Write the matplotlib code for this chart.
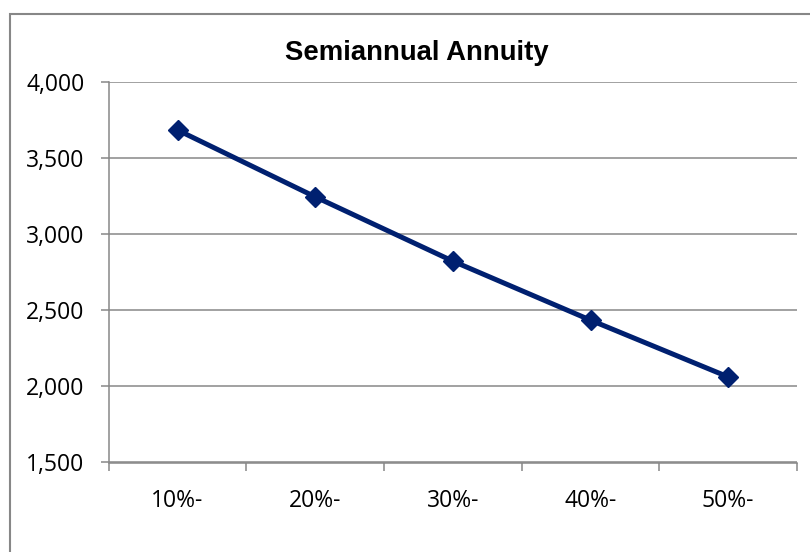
import matplotlib
matplotlib.use("Agg")
import matplotlib.pyplot as plt
import numpy as np
from matplotlib.patches import Rectangle
from matplotlib.ticker import FuncFormatter

# 반기 연금 현재가치 (할인율 구간별)
categories = ["10%-", "20%-", "30%-", "40%-", "50%-"]
annuity_values = [3686, 3247, 2824, 2436, 2063]
y_ticks = [1500, 2000, 2500, 3000, 3500, 4000]

LINE_COLOR = "#002070"
GRID_COLOR = "#878787"
TICK_FONT = ["Open Sans", "DejaVu Sans"]

fig = plt.figure(figsize=(8.1, 5.52), dpi=100)
fig.patch.set_facecolor("white")

# 차트 영역 외곽 테두리 (오른쪽/아래는 이미지 밖으로 이어짐)
border = Rectangle(
    (9.7 / 810, -0.2), 1.2, 1 - 14 / 552 + 0.2,
    transform=fig.transFigure, fill=False,
    edgecolor=GRID_COLOR, linewidth=1.5, zorder=0,
)
fig.patches.append(border)

ax = fig.add_axes([108.7 / 810, 1 - 462.5 / 552, (797 - 108.7) / 810, (462.5 - 82.3) / 552])

x = np.arange(len(categories))
ax.plot(
    x, annuity_values,
    color=LINE_COLOR, linewidth=3.6,
    marker="D", markersize=10.5, markerfacecolor=LINE_COLOR,
    markeredgecolor=LINE_COLOR, solid_capstyle="round", zorder=3,
    clip_on=False,
)

ax.set_xlim(-0.5, len(categories) - 0.5)
ax.set_ylim(y_ticks[0], y_ticks[-1])

# y축 눈금 및 가로 눈금선
ax.set_yticks(y_ticks)
ax.yaxis.set_major_formatter(FuncFormatter(lambda v, _: f"{int(v):,}"))
ax.grid(axis="y", color=GRID_COLOR, linewidth=1.1)
ax.set_axisbelow(True)

# x축: 라벨은 구간 중앙, 눈금은 구간 경계
ax.set_xticks(x)
ax.set_xticklabels(categories)
ax.set_xticks(np.arange(-0.5, len(categories)), minor=True)
ax.tick_params(axis="x", which="major", length=0, pad=19)
ax.tick_params(axis="x", which="minor", length=5.5, width=1.1, color=GRID_COLOR)
ax.tick_params(axis="y", length=5.5, width=1.1, color=GRID_COLOR, pad=12)

for lbl in ax.get_xticklabels() + ax.get_yticklabels():
    lbl.set_family(TICK_FONT)
    lbl.set_fontsize(16.5)
    lbl.set_color("black")

for side in ("top", "right"):
    ax.spines[side].set_visible(False)
for side in ("left", "bottom"):
    ax.spines[side].set_color(GRID_COLOR)
    ax.spines[side].set_linewidth(1.1)

fig.text(
    417 / 810, 1 - 53 / 552, "Semiannual Annuity",
    ha="center", va="center", fontsize=19.8, fontweight="bold",
    family=["Liberation Sans", "DejaVu Sans"],
)

fig.savefig("out.png", dpi=100)
